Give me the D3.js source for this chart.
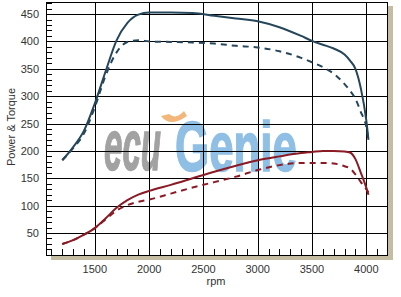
<!DOCTYPE html>
<html>
<head>
<meta charset="utf-8">
<script src="https://cdn.jsdelivr.net/npm/d3@7"></script>
<style>
  body { margin: 0; background: #fff; }
  text { font-family: "Liberation Sans", Arial, sans-serif; }
</style>
</head>
<body>
<div id="chart"></div>
<script>
var margin = { top: 2, right: 13, bottom: 41, left: 46 },
    width = 401 - margin.left - margin.right,
    height = 297 - margin.top - margin.bottom;

var rpm = [1200, 1300, 1400, 1500, 1600, 1700, 1800, 1900, 2000, 2200, 2400, 2600, 2800,
           3000, 3200, 3400, 3500, 3600, 3700, 3800, 3850, 3900, 3950, 4000, 4020];
var torqueTuned = [183, 207, 237, 287, 346, 402, 434, 449, 453, 453, 452, 447, 442,
                   437, 426, 410, 401, 394, 387, 376, 365, 350, 314, 256, 220];
var torqueStock = [183, 205, 232, 280, 338, 380, 399, 402, 400, 399, 398, 396, 392,
                   389, 382, 370, 362, 353, 341, 322, 310, 295, 271, 244, 220];
var powerTuned  = [30, 37, 47, 59, 77, 96, 110, 120, 127, 138, 150, 162, 173,
                   183, 190, 196, 198, 200, 200, 199, 197, 185, 160, 133, 120];
var powerStock  = [30, 37, 47, 59, 75, 91, 101, 107, 111, 122, 133, 143, 153,
                   165, 174, 178, 178, 178, 177, 172, 168, 157, 143, 130, 124];
var xTicks = [1500, 2000, 2500, 3000, 3500, 4000];
var yTicks = [50, 100, 150, 200, 250, 300, 350, 400, 450];

var series = [
  { values: torqueTuned, color: "#26475b", dash: null },
  { values: torqueStock, color: "#26475b", dash: "6,5" },
  { values: powerTuned,  color: "#8a1a24", dash: null },
  { values: powerStock,  color: "#8a1a24", dash: "6,5" }
];

var svg = d3.select("#chart").append("svg")
    .attr("width", 401)
    .attr("height", 297);

var g = svg.append("g")
    .attr("transform", "translate(" + margin.left + "," + margin.top + ")");

var x = d3.scaleLinear().domain([1050, 4200]).range([0, width]);
var y = d3.scaleLinear().domain([8, 472]).range([height, 0]);

// drop shadow of the plot frame
g.append("rect")
    .attr("x", 5).attr("y", 4)
    .attr("width", width).attr("height", height)
    .style("fill", "#c4bda3");

g.append("rect")
    .attr("width", width).attr("height", height)
    .style("fill", "#fff");

// watermark, squeezed horizontally with a scale so the boxes stay apart
var logo = g.append("g").attr("transform", "translate(" + (-margin.left) + "," + (-margin.top) + ")");
function logoWord(word, left, base, w, size, color, italic) {
  var grp = logo.append("g");
  var t = grp.append("text")
      .style("font-size", size + "px").style("font-weight", "bold")
      .style("font-style", italic ? "italic" : "normal")
      .style("fill", color).style("stroke", color).style("stroke-width", 1.5)
      .text(word);
  var sx = w / t.node().getComputedTextLength();
  grp.attr("transform", "translate(" + left + "," + base + ") scale(" + sx + ",1)");
}
logoWord("ecu", 104, 170, 57, 72, "#a2a2a2", true);
logoWord("Genie", 175, 171, 122, 70, "#8fbfe4", false);
logo.append("path")
    .attr("d", "M161,116 Q170,128 187,116 L184,111 Q176,120 169,114 Z")
    .style("fill", "#f3b77c");

// grid
g.selectAll(".vgrid")
    .data(xTicks)
    .enter().append("line")
    .attr("x1", function(d) { return Math.round(x(d)) + 0.5; })
    .attr("x2", function(d) { return Math.round(x(d)) + 0.5; })
    .attr("y1", 0).attr("y2", height)
    .style("stroke", "#000");

g.selectAll(".hgrid")
    .data(yTicks)
    .enter().append("line")
    .attr("y1", function(d) { return Math.round(y(d)) + 0.5; })
    .attr("y2", function(d) { return Math.round(y(d)) + 0.5; })
    .attr("x1", 0).attr("x2", width)
    .style("stroke", "#000");

// minor ticks
g.selectAll(".xminor")
    .data(d3.range(1100, 4200, 100).filter(function(d) { return d % 500 !== 0; }))
    .enter().append("line")
    .attr("x1", function(d) { return Math.round(x(d)) + 0.5; })
    .attr("x2", function(d) { return Math.round(x(d)) + 0.5; })
    .attr("y1", height - 7).attr("y2", height)
    .style("stroke", "#000");

g.selectAll(".yminor")
    .data(d3.range(10, 472, 10).filter(function(d) { return d % 50 !== 0; }))
    .enter().append("line")
    .attr("y1", function(d) { return Math.round(y(d)) + 0.5; })
    .attr("y2", function(d) { return Math.round(y(d)) + 0.5; })
    .attr("x1", 0).attr("x2", 6)
    .style("stroke", "#000");

g.append("rect")
    .attr("x", 0.5).attr("y", 0.5)
    .attr("width", width - 1).attr("height", height - 1)
    .style("fill", "none").style("stroke", "#000");

// curves
var line = d3.line()
    .x(function(d, i) { return x(rpm[i]); })
    .y(function(d) { return y(d); })
    .curve(d3.curveMonotoneX);

g.selectAll(".curve")
    .data(series)
    .enter().append("path")
    .attr("d", function(d) { return line(d.values); })
    .style("fill", "none")
    .style("stroke", function(d) { return d.color; })
    .style("stroke-width", 2)
    .style("stroke-dasharray", function(d) { return d.dash; });

// tick labels
g.selectAll(".yLabel")
    .data(yTicks)
    .enter().append("text")
    .text(function(d) { return d; })
    .attr("x", -7)
    .attr("y", function(d) { return y(d) + 4; })
    .style("text-anchor", "end")
    .style("font-size", "11px")
    .style("fill", "#333");

g.selectAll(".xLabel")
    .data(xTicks)
    .enter().append("text")
    .text(function(d) { return d; })
    .attr("x", function(d) { return x(d); })
    .attr("y", height + 17)
    .style("text-anchor", "middle")
    .style("font-size", "11px")
    .style("fill", "#333");

g.append("text")
    .attr("x", 216 - margin.left)
    .attr("y", 285 - margin.top)
    .style("text-anchor", "middle")
    .style("font-size", "11px")
    .style("fill", "#333")
    .text("rpm");

svg.append("text")
    .attr("transform", "translate(15,127) rotate(-90)")
    .style("text-anchor", "middle")
    .style("font-size", "11px")
    .style("fill", "#333")
    .text("Power & Torque");
</script>
</body>
</html>
